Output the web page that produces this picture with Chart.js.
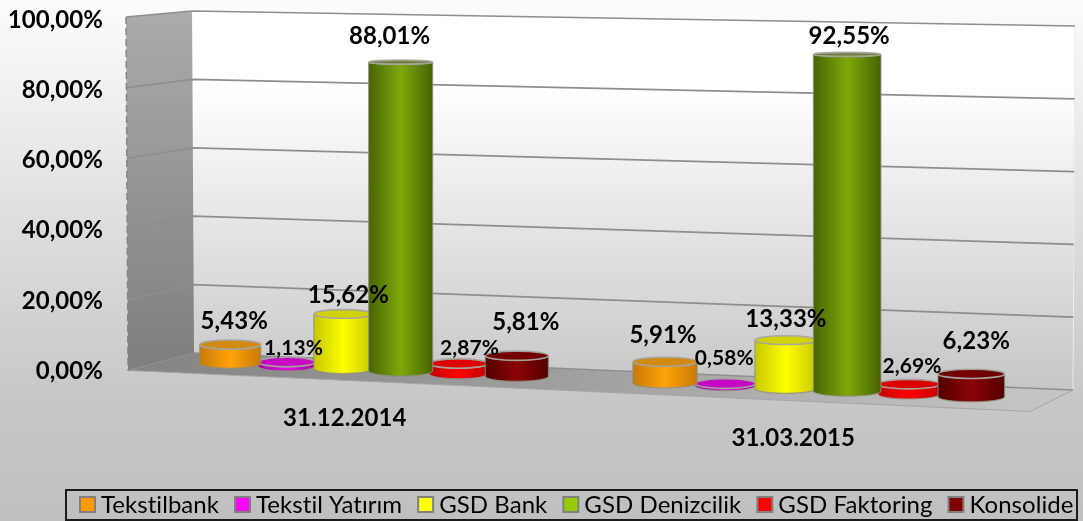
<!DOCTYPE html>
<html><head><meta charset="utf-8">
<style>html,body{margin:0;padding:0;background:#c0c0c0}#w{width:1083px;height:521px}canvas{display:block}</style>
<script src="https://cdn.jsdelivr.net/npm/chart.js@4/dist/chart.umd.min.js"></script>
</head><body><div id="w"><canvas id="c" width="1083" height="521"></canvas></div>
<script>
const categories = ['31.12.2014', '31.03.2015'];
const tekstilbank = [5.43, 5.91];
const tekstilYatirim = [1.13, 0.58];
const gsdBank = [15.62, 13.33];
const gsdDenizcilik = [88.01, 92.55];
const gsdFaktoring = [2.87, 2.69];
const konsolide = [5.81, 6.23];
const seriesNames = ['Tekstilbank', 'Tekstil Yatırım', 'GSD Bank', 'GSD Denizcilik', 'GSD Faktoring', 'Konsolide'];
const seriesValues = [tekstilbank, tekstilYatirim, gsdBank, gsdDenizcilik, gsdFaktoring, konsolide];
const legendColors = ['#ff9900', '#ff00ff', '#ffff00', '#99cc00', '#ff0000', '#800000'];
// cylinder shading per series: edge, centre, top cap
const shades = [
  ['#c87a08', '#ffa308', '#d28a12'],
  ['#a800a8', '#e010e0', '#c408c4'],
  ['#c8c800', '#ffff00', '#d2d20a'],
  ['#486400', '#7fa80a', '#6f7f3c'],
  ['#c40000', '#ff0000', '#dc0000'],
  ['#520000', '#8c0404', '#720000']
];
const widthFactor = [1.05, 0.98, 1, 1.08, 0.98, 1.05];
const paintOrder = [1, 0, 2, 4, 5, 3];
const labelNudge = [ // [group][series] -> dx, dy from the top of the cylinder
  [[4, -23], [7, -14], [5, -19], [-11, -26], [11, -15], [9, -33]],
  [[-2, -27], [-1, -25], [0, -21], [2, -18], [3, -18], [5, -33]]
];
const smallLabel = [false, true, false, false, true, false];
const catNudge = [[-30, 47], [-25, 67]];

const fmt = v => Number(v).toFixed(2).replace('.', ',');
const FONT = 'Lato, sans-serif';

// perspective helpers
const projX = x => x - 6 + 7.5e-5 * (x - 580) * (x - 580);
const floorY = x => 363.5 + 0.045 * (x - 232);
const depthScale = x => 1 + (x - 400) * 8.2e-5;
const wall = { // back wall and floor corners
  frontTop: [126, 17], backTopL: [192, 11], backTopR: [1075, 26],
  frontBot: [128, 370.5], backBotL: [194, 353], backBotR: [1073, 390], frontBotR: [1030, 411.5]
};
const mix = (a, b, t) => a + (b - a) * t;

function poly(ctx, pts) {
  ctx.beginPath();
  pts.forEach((p, i) => i ? ctx.lineTo(p[0], p[1]) : ctx.moveTo(p[0], p[1]));
  ctx.closePath();
}

function drawCylinder(ctx, cx, rx, topY, baseY, s, h) {
  const ryB = 5;
  const ryT = Math.max(2, 4.8 - 2.8 * h / 300);
  const g = ctx.createLinearGradient(cx - rx, 0, cx + rx, 0);
  g.addColorStop(0, s[0]); g.addColorStop(0.5, s[1]); g.addColorStop(1, s[0]);
  ctx.beginPath();
  ctx.moveTo(cx - rx, topY);
  ctx.lineTo(cx - rx, baseY);
  ctx.ellipse(cx, baseY, rx, ryB, 0, Math.PI, 0, true);
  ctx.lineTo(cx + rx, topY);
  ctx.ellipse(cx, topY, rx, ryT, 0, 0, Math.PI, false);
  ctx.closePath();
  ctx.fillStyle = g; ctx.fill();
  ctx.strokeStyle = 'rgba(140,140,130,0.75)'; ctx.lineWidth = 1.2; ctx.stroke();
  ctx.beginPath();
  ctx.ellipse(cx, topY, rx, ryT, 0, 0, Math.PI * 2);
  ctx.fillStyle = s[2]; ctx.fill();
  ctx.strokeStyle = 'rgba(165,165,160,0.95)'; ctx.lineWidth = 1.6; ctx.stroke();
}

const scene = {
  id: 'scene',
  beforeLayout(chart) {
    chart.ctx.letterSpacing = '0.05px'; // keeps "ti" as two letters, as in the reference
  },
  afterLayout(chart) {
    const l = chart.legend;
    l.left = 64; l.right = 1400; l.top = 477; l.bottom = 521;
    l.adjustHitBoxes();
  },
  beforeDraw(chart) {
    const ctx = chart.ctx, y = chart.scales.y;
    ctx.save();
    let g = ctx.createLinearGradient(0, 0, 0, 521);
    g.addColorStop(0, '#fcfcfc'); g.addColorStop(0.75, '#c8c8c8'); g.addColorStop(1, '#bfbfbf');
    ctx.fillStyle = g; ctx.fillRect(0, 0, 1083, 521);

    const w = wall;
    // back wall
    g = ctx.createLinearGradient(0, 11, 0, 390);
    g.addColorStop(0, '#ffffff'); g.addColorStop(0.2, '#ffffff'); g.addColorStop(1, '#c6c6c6');
    poly(ctx, [w.backTopL, w.backTopR, w.backBotR, w.backBotL]);
    ctx.fillStyle = g; ctx.fill();
    ctx.strokeStyle = '#ececec'; ctx.lineWidth = 1;
    ctx.beginPath(); ctx.moveTo(w.backTopR[0], w.backTopR[1]); ctx.lineTo(w.backBotR[0], w.backBotR[1]); ctx.stroke();
    // left wall
    g = ctx.createLinearGradient(0, 11, 0, 370);
    g.addColorStop(0, '#ababab'); g.addColorStop(1, '#7e7e7e');
    poly(ctx, [w.frontTop, w.backTopL, w.backBotL, w.frontBot]);
    ctx.fillStyle = g; ctx.fill();
    ctx.setLineDash([7, 4]); ctx.strokeStyle = '#858585'; ctx.lineWidth = 1.5;
    ctx.beginPath(); ctx.moveTo(w.frontTop[0], w.frontTop[1]); ctx.lineTo(w.frontBot[0], w.frontBot[1]); ctx.stroke();
    ctx.setLineDash([]);
    // floor
    g = ctx.createLinearGradient(128, 0, 1030, 0);
    g.addColorStop(0, '#838383'); g.addColorStop(0.5, '#a0a0a0'); g.addColorStop(1, '#c4c4c4');
    poly(ctx, [w.frontBot, w.backBotL, w.backBotR, w.frontBotR]);
    ctx.fillStyle = g; ctx.fill();
    ctx.strokeStyle = '#a6a6a6'; ctx.lineWidth = 1;
    ctx.beginPath(); ctx.moveTo(w.frontBot[0], w.frontBot[1]); ctx.lineTo(w.frontBotR[0], w.frontBotR[1]); ctx.lineTo(w.backBotR[0], w.backBotR[1]); ctx.stroke();
    // gridlines from the value scale's ticks
    y.ticks.forEach(t => {
      const f = (y.getPixelForValue(t.value) - y.top) / (y.bottom - y.top);
      const a = [mix(w.frontTop[0], w.frontBot[0], f), mix(w.frontTop[1], w.frontBot[1], f)];
      const b = [mix(w.backTopL[0], w.backBotL[0], f), mix(w.backTopL[1], w.backBotL[1], f)];
      const c = [mix(w.backTopR[0], w.backBotR[0], f), mix(w.backTopR[1], w.backBotR[1], f)];
      ctx.strokeStyle = '#8e8e8e'; ctx.lineWidth = 1.7;
      ctx.beginPath(); ctx.moveTo(a[0], a[1]); ctx.lineTo(b[0], b[1]); ctx.lineTo(c[0], c[1]); ctx.stroke();
    });
    ctx.restore();
  },
  beforeDatasetsDraw(chart) {
    const ctx = chart.ctx, y = chart.scales.y, xs = chart.scales.x;
    const pos = seriesValues.map((_, i) => chart.getDatasetMeta(i).data.map(el => {
      const cx = projX(el.x), k = depthScale(cx);
      const h = (el.base - el.y) * k;
      const base = floorY(cx);
      return { cx, rx: el.width * widthFactor[i] * (1 + (cx - 375) * 1.2e-4) / 2, h, base, top: base - h };
    }));
    ctx.save();
    paintOrder.forEach(i => pos[i].forEach(p => drawCylinder(ctx, p.cx, p.rx, p.top, p.base, shades[i], p.h)));
    ctx.textAlign = 'center'; ctx.textBaseline = 'middle'; ctx.fillStyle = '#000';
    pos.forEach((arr, i) => arr.forEach((p, j) => {
      ctx.font = (smallLabel[i] ? '700 21px ' : '700 24px ') + FONT;
      ctx.fillText(fmt(seriesValues[i][j]) + '%', p.cx + labelNudge[j][i][0], p.top + labelNudge[j][i][1]);
    }));
    ctx.font = '700 24px ' + FONT;
    categories.forEach((c, j) => ctx.fillText(c, xs.getPixelForValue(j) + catNudge[j][0], y.bottom + catNudge[j][1]));
    ctx.restore();
    return false;
  },
  afterDraw(chart) {
    const ctx = chart.ctx;
    ctx.save();
    ctx.strokeStyle = '#1a1a1a'; ctx.lineWidth = 2;
    ctx.strokeRect(66, 490, 1011, 30);
    chart.legend.legendHitBoxes.forEach((hb, i) => {
      ctx.fillStyle = legendColors[i];
      ctx.fillRect(hb.left, 497, 15, 15);
      ctx.strokeStyle = '#808080'; ctx.lineWidth = 2;
      ctx.strokeRect(hb.left, 497, 15, 15);
    });
    ctx.restore();
  }
};

new Chart(document.getElementById('c'), {
  type: 'bar',
  data: {
    labels: categories,
    datasets: seriesNames.map((n, i) => ({
      label: n, data: seriesValues[i], backgroundColor: legendColors[i],
      categoryPercentage: 0.8, barPercentage: 1
    }))
  },
  plugins: [scene],
  options: {
    responsive: false, animation: false,
    layout: { padding: { top: 20, right: 43, left: 0, bottom: 100 } },
    scales: {
      x: { display: false },
      y: {
        min: 0, max: 100,
        afterFit(s) { s.width = 153; s.paddingTop = 0; s.paddingBottom = 0; },
        grid: { display: false, drawTicks: false }, border: { display: false },
        ticks: { stepSize: 20, padding: 50, color: '#000', font: { family: FONT, size: 24, weight: '700' }, callback: v => fmt(v) + '%' }
      }
    },
    plugins: {
      tooltip: { enabled: false },
      legend: {
        position: 'bottom',
        align: 'start',
        labels: {
          boxWidth: 9, boxHeight: 15, padding: 16, color: '#000',
          font: { family: FONT, size: 24 },
          generateLabels: chart => chart.data.datasets.map((d, i) => ({
            text: d.label, fillStyle: 'rgba(0,0,0,0)', strokeStyle: 'rgba(0,0,0,0)', lineWidth: 0, datasetIndex: i, fontColor: '#000'
          }))
        }
      }
    }
  }
});
</script></body></html>
